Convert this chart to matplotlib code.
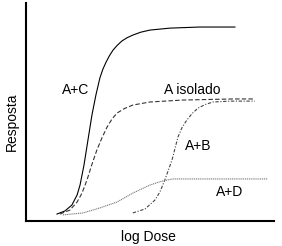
import matplotlib
matplotlib.use("Agg")
import matplotlib.pyplot as plt

plt.rcParams['font.family'] = ['Liberation Sans', 'DejaVu Sans']

# log dose (0-10) vs response (0-100)
ac_x = [1.25, 1.57, 1.85, 2.06, 2.18, 2.34, 2.50, 2.66, 2.82, 2.98, 3.10, 3.23, 3.37, 3.51, 3.68, 3.87, 4.08, 4.31, 4.62, 5.0, 5.81, 7.02, 8.43]
ac_y = [3.2, 4.6, 7.3, 11.9, 16.5, 25.7, 37.2, 48.6, 57.8, 65.6, 69.6, 72.9, 75.9, 78.4, 80.6, 82.6, 84.1, 85.3, 86.6, 87.6, 88.5, 89.0, 89.0]

ai_x = [1.37, 1.77, 2.06, 2.26, 2.46, 2.66, 2.86, 3.07, 3.27, 3.47, 3.67, 3.97, 4.31, 5.0, 6.33, 8.35, 9.23]
ai_y = [3.2, 5.0, 8.7, 12.8, 18.8, 26.0, 32.6, 38.3, 43.1, 46.8, 49.5, 51.6, 53.2, 54.6, 55.5, 56.0, 56.0]

ab_x = [4.31, 4.80, 5.20, 5.40, 5.60, 5.89, 6.13, 6.30, 6.49, 6.70, 6.94, 7.22, 7.54, 8.23, 9.23]
ab_y = [3.7, 5.5, 9.6, 13.3, 18.8, 28.0, 38.5, 43.0, 46.3, 49.3, 51.8, 53.4, 54.6, 55.0, 55.0]

ad_x = [1.49, 2.30, 2.98, 3.67, 4.31, 5.0, 5.40, 5.69, 5.93, 7.02, 9.76]
ad_y = [2.8, 3.7, 6.0, 8.7, 12.8, 16.5, 18.0, 18.8, 19.3, 19.3, 19.3]

fig = plt.figure(figsize=(2.82, 2.46), dpi=100)
ax = fig.add_axes([0.0922, 0.1016, 0.879, 0.886])
ax.set_xlim(0, 10)
ax.set_ylim(0, 100)

ax.plot(ac_x, ac_y, color='black', lw=0.8, ls='-')
ax.plot(ai_x, ai_y, color='#333333', lw=0.8, ls=(0, (4, 2)))
ax.plot(ab_x, ab_y, color='#444444', lw=0.8, ls=(0, (3, 1.5, 1, 1.5)))
ax.plot(ad_x, ad_y, color='#777777', lw=0.8, ls=(0, (1, 0.7)))

ax.text(2.0, 60.0, 'A+C', fontsize=10, ha='center', va='center')
ax.text(6.69, 60.0, 'A isolado', fontsize=10, ha='center', va='center')
ax.text(6.94, 34.4, 'A+B', fontsize=10, ha='center', va='center')
ax.text(8.23, 13.3, 'A+D', fontsize=10, ha='center', va='center')

for s in ['top', 'right']:
    ax.spines[s].set_visible(False)
for s in ['left', 'bottom']:
    ax.spines[s].set_linewidth(1.5)
ax.set_xticks([])
ax.set_yticks([])

fig.text(0.043, 0.504, 'Resposta', rotation=90, fontsize=10, ha='center', va='center')
fig.text(0.525, 0.037, 'log Dose', fontsize=10, ha='center', va='center')

fig.savefig('out.png', dpi=100)
